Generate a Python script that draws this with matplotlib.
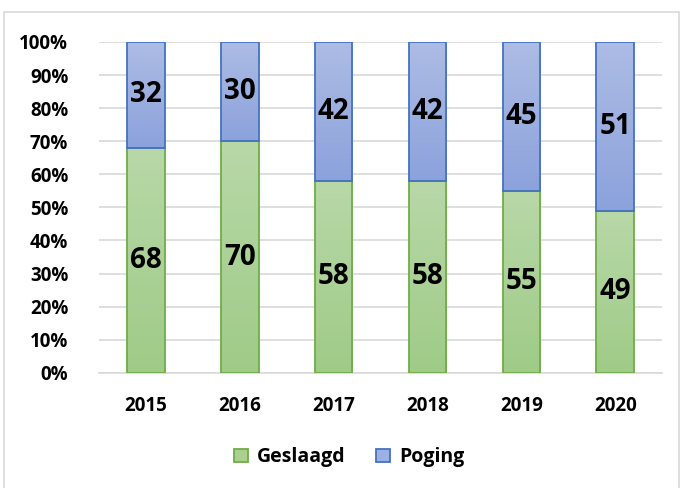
import numpy as np
import matplotlib.pyplot as plt
from matplotlib.patches import Rectangle
from matplotlib.colors import LinearSegmentedColormap

years = ["2015", "2016", "2017", "2018", "2019", "2020"]
geslaagd = [68, 70, 58, 58, 55, 49]
poging = [32, 30, 42, 42, 45, 51]

plt.rcParams['font.family'] = ['Open Sans', 'DejaVu Sans']

fig = plt.figure(figsize=(6.82, 4.88), dpi=100)
ax = fig.add_axes([0.145, 0.236, 0.826, 0.678])

# chart border
fig.patches.append(Rectangle((4 / 682, -0.05), 675 / 682, 1 - 12 / 488 + 0.05,
                             transform=fig.transFigure, fill=False,
                             edgecolor='#d9d9d9', linewidth=1.2))

x = np.arange(len(years))
g = np.array(geslaagd)
p = np.array(poging)
w = 0.4

bars_g = ax.bar(x, g, width=w, color='none', edgecolor='#70ad47', linewidth=1.3,
                label='Geslaagd', zorder=3)
bars_p = ax.bar(x, p, width=w, bottom=g, color='none', edgecolor='#4472c4', linewidth=1.3,
                label='Poging', zorder=3)

# gradient fill inside each segment (lighter at top)
cm_g = LinearSegmentedColormap.from_list('g', ['#9fcb87', '#b8d8a8'])
cm_p = LinearSegmentedColormap.from_list('p', ['#8ca2dc', '#adbce5'])
grad = np.linspace(1, 0, 100).reshape(-1, 1)
for bars, cm in [(bars_g, cm_g), (bars_p, cm_p)]:
    for r in bars:
        x0, y0 = r.get_x(), r.get_y()
        im = ax.imshow(grad, extent=[x0, x0 + r.get_width(), y0, y0 + r.get_height()],
                       aspect='auto', cmap=cm, vmin=0, vmax=1, zorder=2.9,
                       interpolation='bilinear')
        im.set_clip_path(r)

for i in range(len(years)):
    ax.text(x[i], g[i] / 2, str(geslaagd[i]), ha='center', va='center',
            fontsize=20, fontweight='bold', zorder=4)
    ax.text(x[i], g[i] + p[i] / 2, str(poging[i]), ha='center', va='center',
            fontsize=20, fontweight='bold', zorder=4)

ax.set_xlim(-0.5, 5.5)
ax.set_ylim(0, 100)
ax.set_yticks(np.arange(0, 101, 10))
ax.set_yticklabels([f"{v}%" for v in range(0, 101, 10)], fontsize=13.5, fontweight='bold')
ax.set_xticks(x)
ax.set_xticklabels(years, fontsize=13.5, fontweight='bold')
ax.tick_params(axis='y', length=0, pad=22)
ax.tick_params(axis='x', length=0, pad=17)
ax.yaxis.grid(True, color='#d9d9d9', linewidth=1.2, zorder=0)
ax.set_axisbelow(True)
for s in ['top', 'right', 'left']:
    ax.spines[s].set_visible(False)
ax.spines['bottom'].set_color('#d9d9d9')
ax.spines['bottom'].set_linewidth(1.2)

handles = [Rectangle((0, 0), 1, 1, facecolor='#a9d08e', edgecolor='#70ad47', linewidth=1.3),
           Rectangle((0, 0), 1, 1, facecolor='#9cb0e2', edgecolor='#4472c4', linewidth=1.3)]
leg = fig.legend(handles, ['Geslaagd', 'Poging'], loc='center',
                 bbox_to_anchor=(0.512, 0.063), ncol=2, frameon=False,
                 prop={'size': 14, 'weight': 'bold'}, handlelength=0.7,
                 handleheight=0.7, columnspacing=1.6, handletextpad=0.45)

fig.savefig('out.png', dpi=100)
